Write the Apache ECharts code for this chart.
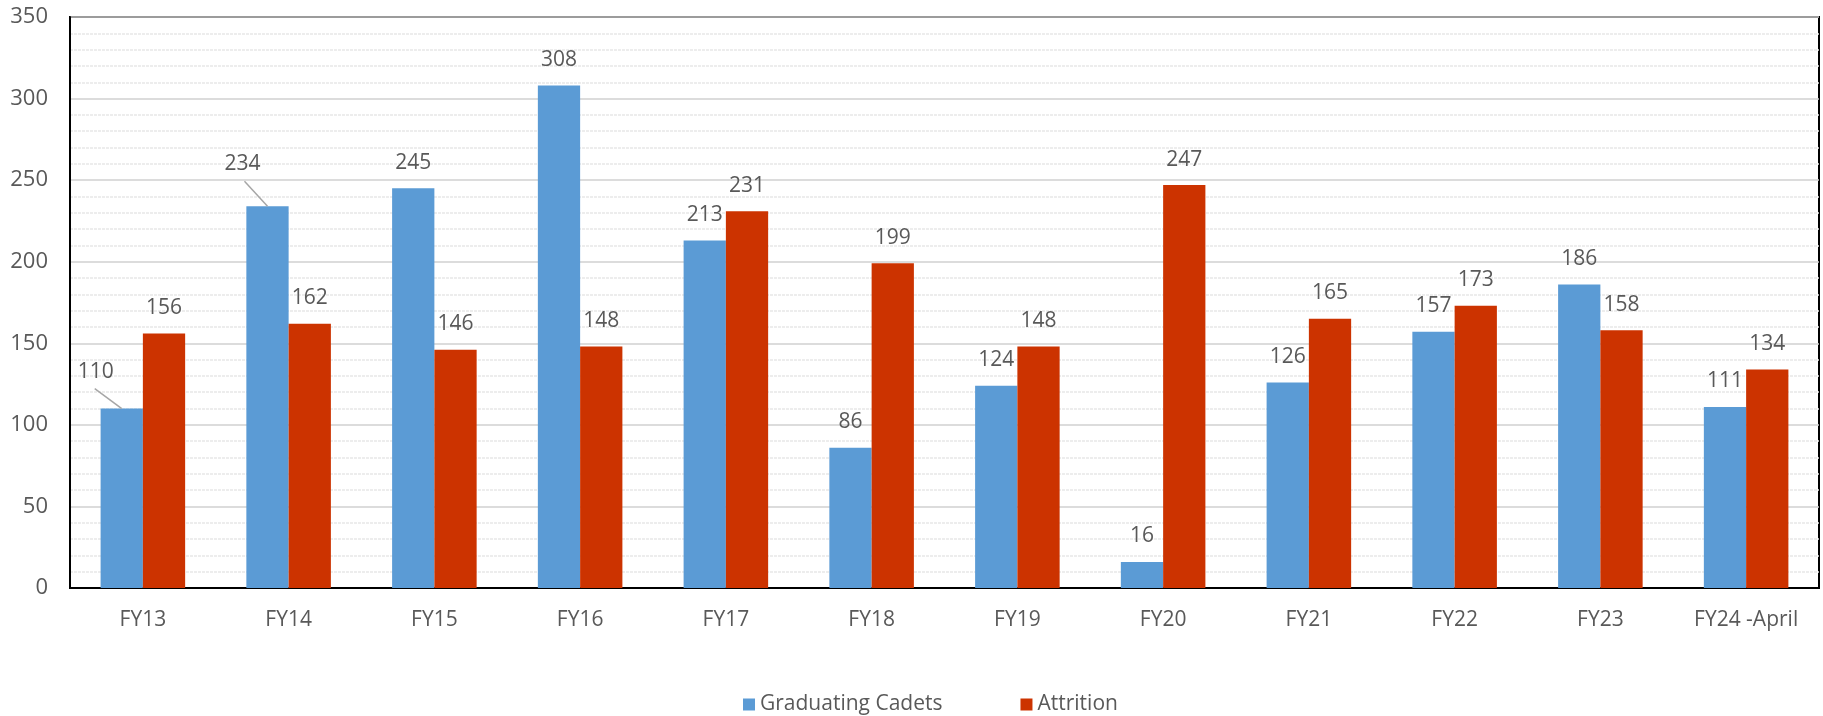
<!DOCTYPE html>
<html>
<head>
<meta charset="utf-8">
<script src="https://cdn.jsdelivr.net/npm/echarts@6/dist/echarts.min.js"></script>
<style>
  html, body { margin: 0; padding: 0; background: #fff; }
  #chart { width: 1823px; height: 716px; }
</style>
</head>
<body>
<div id="chart"></div>
<script>
// Fiscal years shown along the x axis
const categories = ['FY13', 'FY14', 'FY15', 'FY16', 'FY17', 'FY18', 'FY19', 'FY20', 'FY21', 'FY22', 'FY23', 'FY24 -April'];
// Cadets who graduated each year
const graduatingCadets = [110, 234, 245, 308, 213, 86, 124, 16, 126, 157, 186, 111];
// Cadets lost to attrition each year
const attrition = [156, 162, 146, 148, 231, 199, 148, 247, 165, 173, 158, 134];
// Value axis range
const yMin = 0, yMax = 350, yStep = 50;

const FONT = '"Open Sans", "Noto Sans", sans-serif';
const TEXT = '#595959';

// Labels nudged up-left of their bar: [dx, dy] for the label, [dx, dy] for the start of the leader line
const movedLabels = {
  '0-0': { label: [-26, -11], line: [-27, -20] },
  '0-1': { label: [-25, -17], line: [-23, -25] }
};

const chart = echarts.init(document.getElementById('chart'), null, { renderer: 'canvas' });

const labelCfg = {
  show: true,
  position: 'top',
  distance: 15,
  color: TEXT,
  fontFamily: FONT,
  fontSize: 21
};

function layoutFor(p) {
  const m = movedLabels[p.seriesIndex + '-' + p.dataIndex];
  return m ? { dx: m.label[0], dy: m.label[1] } : {};
}

chart.setOption({
  animation: false,
  backgroundColor: '#fff',
  textStyle: { fontFamily: FONT },
  grid: {
    left: 70, right: 4, top: 17, bottom: 128,
    show: true, borderColor: '#000', borderWidth: 2
  },
  legend: {
    top: 689,
    left: 738,
    itemWidth: 12,
    itemHeight: 12,
    itemGap: 78,
    icon: 'rect',
    textStyle: { color: TEXT, fontFamily: FONT, fontSize: 21 },
    data: ['Graduating Cadets', 'Attrition']
  },
  xAxis: {
    type: 'category',
    data: categories,
    axisLine: { show: true, lineStyle: { color: '#000', width: 2 } },
    axisTick: { show: false },
    axisLabel: { color: TEXT, fontFamily: FONT, fontSize: 21, margin: 22 }
  },
  yAxis: {
    type: 'value',
    min: yMin, max: yMax, interval: yStep,
    axisLine: { show: true, lineStyle: { color: '#000', width: 2 } },
    axisTick: { show: false },
    axisLabel: { color: TEXT, fontFamily: FONT, fontSize: 22, margin: 22 },
    splitLine: { show: true, lineStyle: { color: '#d0d0d0', width: 1.5 } },
    minorTick: { show: false, splitNumber: 5 },
    minorSplitLine: { show: true, lineStyle: { color: '#e8e8e8', width: 1.5, type: [3, 1] } }
  },
  series: [
    {
      name: 'Graduating Cadets',
      type: 'bar',
      data: graduatingCadets,
      barGap: '0%',
      barCategoryGap: '42%',
      itemStyle: { color: '#5B9BD5' },
      label: labelCfg,
      labelLayout: layoutFor
    },
    {
      name: 'Attrition',
      type: 'bar',
      data: attrition,
      barGap: '0%',
      barCategoryGap: '42%',
      itemStyle: { color: '#CC3300' },
      label: labelCfg,
      labelLayout: layoutFor
    }
  ]
});

// Leader lines from the moved labels down to the top centre of their bars
const leaderLines = [];
Object.keys(movedLabels).forEach(function (key) {
  const parts = key.split('-').map(Number);
  const data = chart.getModel().getSeriesByIndex(parts[0]).getData();
  const lay = data.getItemLayout(parts[1]);
  const cx = lay.x + lay.width / 2;
  const top = Math.min(lay.y, lay.y + lay.height);
  const off = movedLabels[key].line;
  leaderLines.push({
    type: 'line',
    z: 10,
    shape: { x1: cx + off[0], y1: top + off[1], x2: cx, y2: top },
    style: { stroke: '#a6a6a6', lineWidth: 1.5 }
  });
});
chart.setOption({ graphic: leaderLines });
</script>
</body>
</html>
